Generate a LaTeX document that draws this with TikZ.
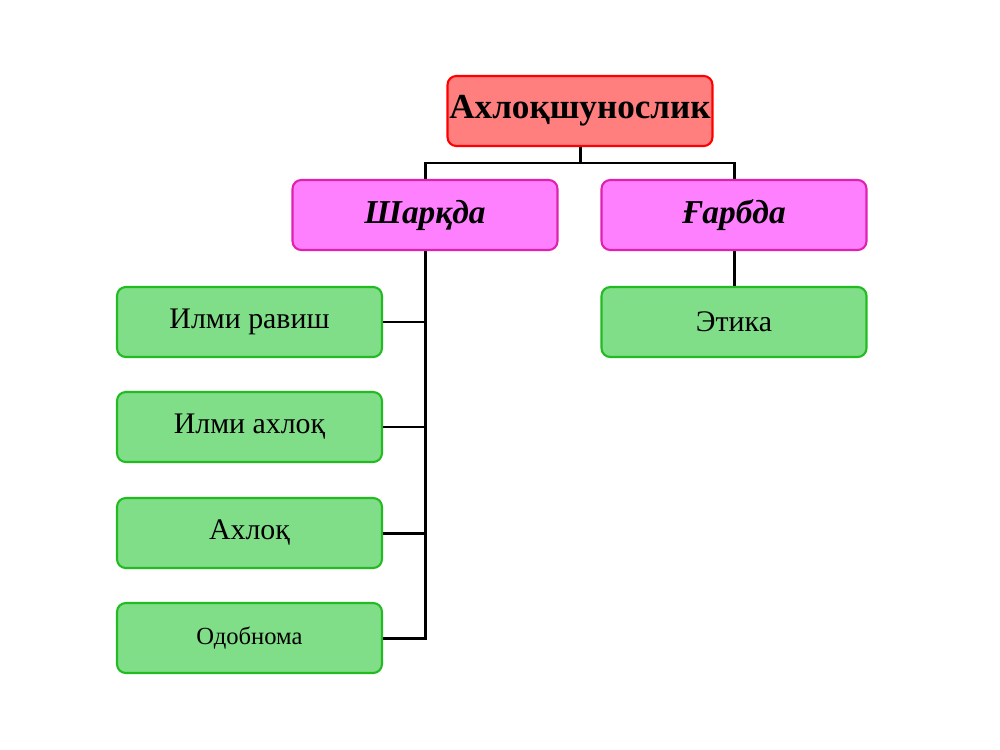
\documentclass[tikz,border=0pt]{standalone}
\usepackage{fontspec}
\setmainfont{Liberation Serif}
\definecolor{topfill}{HTML}{FF7F7F}
\definecolor{pinkfill}{HTML}{FF80FF}
\definecolor{pinkline}{HTML}{E020B0}
\definecolor{greenfill}{HTML}{80DD88}
\definecolor{greenline}{HTML}{22BB22}
\begin{document}
\begin{tikzpicture}[x=0.02cm, y=-0.02cm,
    box/.style={rounded corners=5pt, line width=1.2pt, minimum width=5.3cm, minimum height=1.4cm, inner sep=0pt},
    headbox/.style={box, draw=red, fill=topfill, font=\bfseries\fontsize{20}{24}\selectfont},
    sidebox/.style={box, draw=pinkline, fill=pinkfill, font=\bfseries\itshape\fontsize{19}{23}\selectfont},
    leafbox/.style={box, draw=greenline, fill=greenfill, font=\fontsize{17}{21}\selectfont},
    link/.style={line width=1.7pt}]
    \useasboundingbox (0,0) rectangle (1000,750);
    \node[headbox] (root) at (580,111) {Ахлоқшунослик};
    \node[sidebox] (east) at (425,215) {Шарқда};
    \node[sidebox] (west) at (734,215) {Ғарбда};
    \node[leafbox] (l1) at (249.5,322) {Илми равиш};
    \node[leafbox] (l2) at (249.5,427) {Илми ахлоқ};
    \node[leafbox] (l3) at (249.5,533) {Ахлоқ};
    \node[leafbox, font=\fontsize{14}{17}\selectfont] (l4) at (249.5,638) {Одобнома};
    \node[leafbox] (ethics) at (734,322) {Этика};
    % connectors
    \coordinate (fork) at (580,163);
    \draw[link] (root.south) -- (fork);
    \draw[link] (east.north) |- (fork) -| (west.north);
    \draw[link] (east.south) |- (l4.east);
    \foreach \n in {l1,l2,l3}
        \draw[link] (\n.east) -- (\n.east -| east.south);
    \draw[link] (west.south) -- (ethics.north);
\end{tikzpicture}
\end{document}
